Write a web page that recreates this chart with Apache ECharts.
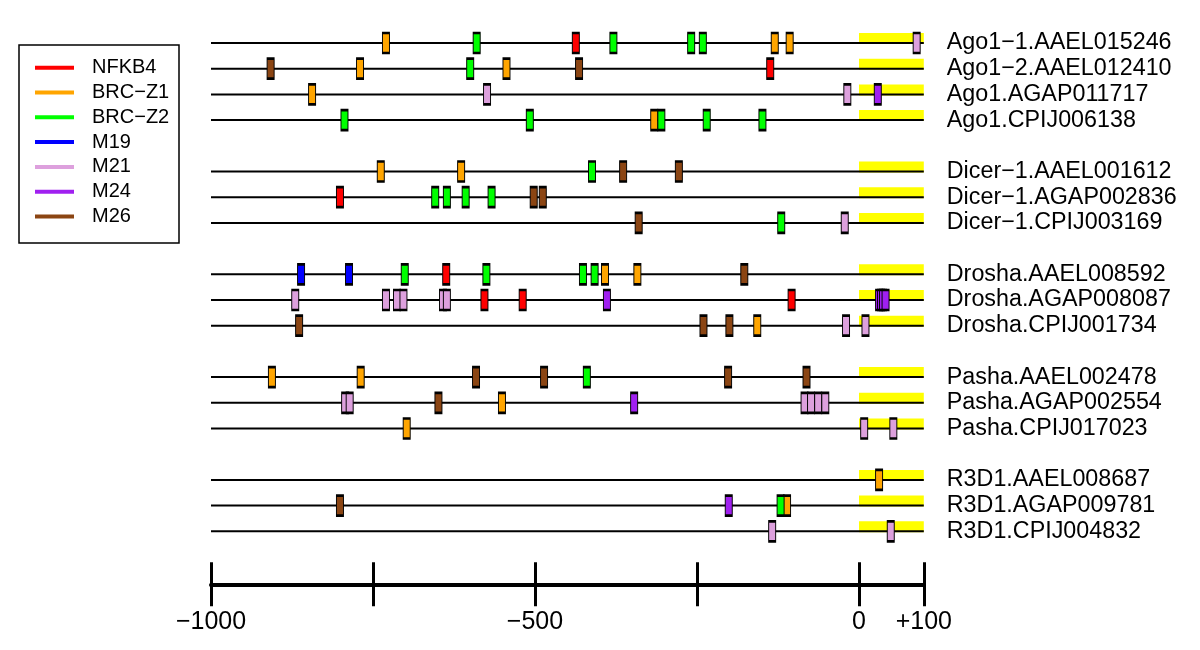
<!DOCTYPE html>
<html>
<head>
<meta charset="utf-8">
<script src="https://cdn.jsdelivr.net/npm/echarts@6/dist/echarts.min.js"></script>
<style>html,body{margin:0;padding:0;background:#fff}#c{width:1200px;height:650px}</style>
</head>
<body>
<div id="c"></div>
<script>
// Row labels (blank strings are spacer rows between gene groups)
var genes = [
  'Ago1-1.AAEL015246', 'Ago1-2.AAEL012410', 'Ago1.AGAP011717', 'Ago1.CPIJ006138', ' ',
  'Dicer-1.AAEL001612', 'Dicer-1.AGAP002836', 'Dicer-1.CPIJ003169', '  ',
  'Drosha.AAEL008592', 'Drosha.AGAP008087', 'Drosha.CPIJ001734', '   ',
  'Pasha.AAEL002478', 'Pasha.AGAP002554', 'Pasha.CPIJ017023', '    ',
  'R3D1.AAEL008687', 'R3D1.AGAP009781', 'R3D1.CPIJ004832'
];
var motifs = ['NFKB4', 'BRC-Z1', 'BRC-Z2', 'M19', 'M21', 'M24', 'M26'];
var motifColors = ['#FF0000', '#FFA500', '#00FF00', '#0000FF', '#DDA0DD', '#A020F0', '#8B4513'];

// Motif positions: [position, gene]
var NFKB4 = [
  [-437, 'Ago1-1.AAEL015246'], [-137, 'Ago1-2.AAEL012410'], [-801, 'Dicer-1.AGAP002836'],
  [-637, 'Drosha.AAEL008592'], [-578, 'Drosha.AGAP008087'], [-519, 'Drosha.AGAP008087'],
  [-104, 'Drosha.AGAP008087']
];
var BRC_Z1 = [
  [-730, 'Ago1-1.AAEL015246'], [-130, 'Ago1-1.AAEL015246'], [-107, 'Ago1-1.AAEL015246'],
  [-770, 'Ago1-2.AAEL012410'], [-544, 'Ago1-2.AAEL012410'],
  [-844, 'Ago1.AGAP011717'], [-316, 'Ago1.CPIJ006138'],
  [-738, 'Dicer-1.AAEL001612'], [-614, 'Dicer-1.AAEL001612'],
  [-392, 'Drosha.AAEL008592'], [-342, 'Drosha.AAEL008592'], [-157, 'Drosha.CPIJ001734'],
  [-906, 'Pasha.AAEL002478'], [-769, 'Pasha.AAEL002478'], [-551, 'Pasha.AGAP002554'],
  [-698, 'Pasha.CPIJ017023'], [31, 'R3D1.AAEL008687'], [-111, 'R3D1.AGAP009781']
];
var BRC_Z2 = [
  [-590, 'Ago1-1.AAEL015246'], [-379, 'Ago1-1.AAEL015246'], [-259, 'Ago1-1.AAEL015246'], [-241, 'Ago1-1.AAEL015246'],
  [-600, 'Ago1-2.AAEL012410'],
  [-794, 'Ago1.CPIJ006138'], [-508, 'Ago1.CPIJ006138'], [-305, 'Ago1.CPIJ006138'], [-235, 'Ago1.CPIJ006138'], [-149, 'Ago1.CPIJ006138'],
  [-412, 'Dicer-1.AAEL001612'],
  [-654, 'Dicer-1.AGAP002836'], [-636, 'Dicer-1.AGAP002836'], [-607, 'Dicer-1.AGAP002836'], [-567, 'Dicer-1.AGAP002836'],
  [-120, 'Dicer-1.CPIJ003169'],
  [-701, 'Drosha.AAEL008592'], [-575, 'Drosha.AAEL008592'], [-426, 'Drosha.AAEL008592'], [-408, 'Drosha.AAEL008592'],
  [-420, 'Pasha.AAEL002478'], [-121, 'R3D1.AGAP009781']
];
var M19 = [
  [-861, 'Drosha.AAEL008592'], [-787, 'Drosha.AAEL008592']
];
var M21 = [
  [89, 'Ago1-1.AAEL015246'], [-574, 'Ago1.AGAP011717'], [-18, 'Ago1.AGAP011717'],
  [-22, 'Dicer-1.CPIJ003169'],
  [-870, 'Drosha.AGAP008087'], [-730, 'Drosha.AGAP008087'], [-713, 'Drosha.AGAP008087'], [-703, 'Drosha.AGAP008087'],
  [-642, 'Drosha.AGAP008087'], [-636, 'Drosha.AGAP008087'],
  [-20, 'Drosha.CPIJ001734'], [10, 'Drosha.CPIJ001734'],
  [-793, 'Pasha.AGAP002554'], [-786, 'Pasha.AGAP002554'], [-84, 'Pasha.AGAP002554'], [-74, 'Pasha.AGAP002554'],
  [-63, 'Pasha.AGAP002554'], [-52, 'Pasha.AGAP002554'],
  [8, 'Pasha.CPIJ017023'], [53, 'Pasha.CPIJ017023'],
  [-134, 'R3D1.CPIJ004832'], [49, 'R3D1.CPIJ004832']
];
var M24 = [
  [29, 'Ago1.AGAP011717'], [-389, 'Drosha.AGAP008087'], [31, 'Drosha.AGAP008087'], [34, 'Drosha.AGAP008087'],
  [37, 'Drosha.AGAP008087'], [41, 'Drosha.AGAP008087'],
  [-347, 'Pasha.AGAP002554'], [-201, 'R3D1.AGAP009781']
];
var M26 = [
  [-908, 'Ago1-2.AAEL012410'], [-432, 'Ago1-2.AAEL012410'],
  [-364, 'Dicer-1.AAEL001612'], [-278, 'Dicer-1.AAEL001612'],
  [-502, 'Dicer-1.AGAP002836'], [-488, 'Dicer-1.AGAP002836'], [-340, 'Dicer-1.CPIJ003169'],
  [-177, 'Drosha.AAEL008592'],
  [-864, 'Drosha.CPIJ001734'], [-240, 'Drosha.CPIJ001734'], [-200, 'Drosha.CPIJ001734'],
  [-591, 'Pasha.AAEL002478'], [-486, 'Pasha.AAEL002478'], [-202, 'Pasha.AAEL002478'], [-81, 'Pasha.AAEL002478'],
  [-649, 'Pasha.AGAP002554'], [-801, 'R3D1.AGAP009781']
];
var motifData = [NFKB4, BRC_Z1, BRC_Z2, M19, M21, M24, M26];

var axisMin = -1000, axisMax = 100, promoterEnd = 0;
var tickValues = [-1000, -750, -500, -250, 0, 100];
var tickLabels = [-1000, -500, 0, 100];

var FONT = 'Liberation Sans';
function disp(s) { return s.replace(/-/g, '\u2212'); }

var rowData = genes.filter(function (g) { return g.trim() !== ''; }).map(function (g) { return [0, g]; });

var series = [{
  type: 'custom',
  xAxisIndex: 0,
  yAxisIndex: 0,
  silent: true,
  z: 1,
  data: rowData,
  encode: { x: 0, y: 1 },
  renderItem: function (params, api) {
    var yi = api.value(1);
    var p0 = api.coord([axisMin, yi]);
    var pz = api.coord([promoterEnd, yi]);
    var p1 = api.coord([axisMax, yi]);
    return {
      type: 'group',
      children: [
        { type: 'rect', shape: { x: pz[0], y: p0[1] - 10, width: p1[0] - pz[0], height: 11 }, style: { fill: '#FFFF00' } },
        { type: 'line', shape: { x1: p0[0], y1: p0[1], x2: p1[0], y2: p1[1] }, style: { stroke: '#000', lineWidth: 2 } }
      ]
    };
  }
}];
motifs.forEach(function (m, i) {
  series.push({
    type: 'scatter',
    name: m,
    xAxisIndex: 0,
    yAxisIndex: 0,
    z: 3,
    symbol: 'rect',
    symbolSize: [7, 20],
    itemStyle: { color: motifColors[i], borderColor: '#000', borderWidth: 1.6, opacity: 1 },
    emphasis: { disabled: true },
    data: motifData[i]
  });
});

var chart = echarts.init(document.getElementById('c'));
chart.setOption({
  animation: false,
  backgroundColor: '#fff',
  grid: { left: 211, top: 43, width: 712.8, height: 488.3, containLabel: false },
  xAxis: [{
    type: 'value', min: axisMin, max: axisMax, position: 'bottom', offset: 53,
    axisLine: { show: true, lineStyle: { color: '#000', width: 4 } },
    axisTick: { show: true, inside: false, length: 22, customValues: tickValues, lineStyle: { color: '#000', width: 3 } },
    axisLabel: {
      show: true, customValues: tickLabels, margin: 25, fontSize: 25, color: '#000', fontFamily: FONT,
      formatter: function (v) { return v < 0 ? '\u2212' + Math.abs(v) : (v > 0 ? '+' + v : '0'); }
    },
    splitLine: { show: false }
  }, {
    type: 'value', min: axisMin, max: axisMax, position: 'bottom', offset: 53,
    axisLine: { show: false },
    axisTick: { show: true, inside: true, length: 22, customValues: tickValues, lineStyle: { color: '#000', width: 3 } },
    axisLabel: { show: false },
    splitLine: { show: false }
  }],
  yAxis: {
    type: 'category', data: genes, inverse: true, boundaryGap: false, position: 'right',
    axisLine: { show: false }, axisTick: { show: false }, splitLine: { show: false },
    axisLabel: { interval: 0, margin: 23, fontSize: 23.3, color: '#000', fontFamily: FONT, formatter: disp }
  },
  legend: {
    orient: 'vertical', left: 35, top: 57.7, padding: 0, itemGap: 4.8,
    itemWidth: 39, itemHeight: 4, selectedMode: false,
    itemStyle: { borderWidth: 0 },
    textStyle: { fontSize: 20, color: '#000', fontFamily: FONT, padding: [0, 0, 0, 13] },
    formatter: disp,
    data: motifs.map(function (m) { return { name: m, icon: 'rect' }; })
  },
  graphic: [{
    type: 'rect', left: 16.5, top: 42.5, shape: { width: 160, height: 198 },
    style: { fill: 'none', stroke: '#000', lineWidth: 1.5 }, silent: true
  }],
  series: series
});
</script>
</body>
</html>
